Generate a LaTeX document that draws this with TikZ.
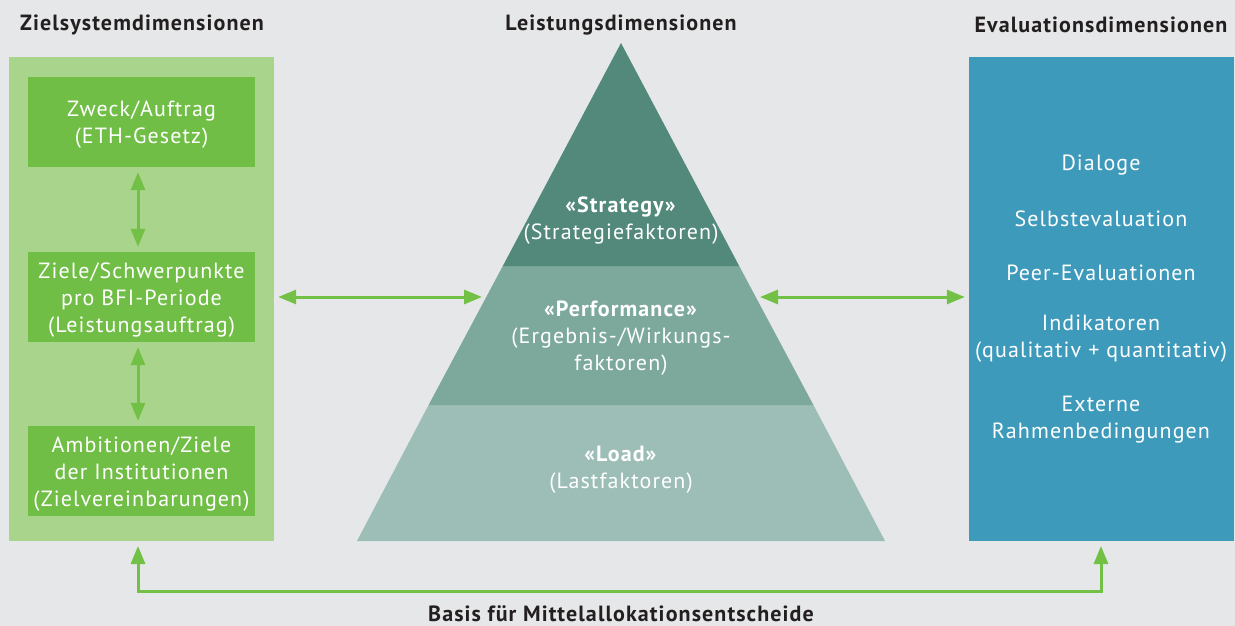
\documentclass[tikz,border=0pt]{standalone}
\usepackage{fontspec}
\setmainfont[LetterSpace=5]{PT Sans}
\usetikzlibrary{arrows.meta}
\definecolor{bggray}{HTML}{E6E7E8}
\definecolor{lightgreen}{HTML}{A9D48B}
\definecolor{midgreen}{HTML}{70BE45}
\definecolor{arrowgreen}{HTML}{72C045}
\definecolor{pyrtop}{HTML}{52897B}
\definecolor{pyrmid}{HTML}{7DA99C}
\definecolor{pyrlow}{HTML}{9DBEB7}
\definecolor{evalblue}{HTML}{3E9ABB}
\definecolor{darktext}{HTML}{231F20}
\tikzset{
  heading/.style={font=\fontsize{22}{26}\selectfont\bfseries, text=darktext, anchor=center},
  panel/.style={rectangle, inner sep=0pt, minimum width=265pt, minimum height=484pt},
  goalbox/.style={rectangle, fill=midgreen, inner sep=0pt, minimum width=227pt, minimum height=90pt},
  bodytext/.style={text=white, align=center, font=\fontsize{22}{27}\selectfont},
  link/.style={draw=arrowgreen, line width=3pt, {Triangle[length=18pt,width=14pt]}-{Triangle[length=18pt,width=14pt]}},
  uplink/.style={draw=arrowgreen, line width=3pt, -{Triangle[length=18pt,width=14pt]}},
}
\begin{document}
\begin{tikzpicture}[x=1pt, y=-1pt]
  % canvas
  \fill[bggray] (0,0) rectangle (1235,626);
  \useasboundingbox (0,0) rectangle (1235,626);

  % column headings
  \node[heading] (h1) at (142,25) {Zielsystemdimensionen};
  \node[heading] (h2) at (621,25) {Leistungsdimensionen};
  \node[heading] (h3) at (1101,25) {Evaluationsdimensionen};

  % goal system column
  \node[panel, fill=lightgreen] (goals) at (141.5,299) {};
  \node[goalbox] (g1) at (141.5,122) {};
  \node[goalbox] (g2) at (141.5,297) {};
  \node[goalbox] (g3) at (141.5,471) {};
  \node[bodytext] (g1t) at (141.5,125) {Zweck/Auftrag\\(ETH-Gesetz)};
  \node[bodytext] (g2t) at (141.5,300) {Ziele/Schwerpunkte\\pro BFI-Periode\\(Leistungsauftrag)};
  \node[bodytext] (g3t) at (141.5,474) {Ambitionen/Ziele\\der Institutionen\\(Zielvereinbarungen)};

  % performance pyramid in three bands
  \fill[pyrlow] (357,541) -- (885,541) -- (813.4,405) -- (428.6,405) -- cycle;
  \fill[pyrmid] (428.6,405) -- (813.4,405) -- (739.2,266) -- (502.8,266) -- cycle;
  \fill[pyrtop] (502.8,266) -- (739.2,266) -- (621,43) -- cycle;
  \coordinate (pyrL) at (486,297);
  \coordinate (pyrR) at (756,297);
  \node[bodytext] (strat) at (621,221) {\textbf{«Strategy»}\\(Strategiefaktoren)};
  \node[bodytext] (perf) at (621,338) {\textbf{«Performance»}\\(Ergebnis-/Wirkungs-\\faktoren)};
  \node[bodytext] (load) at (621,470) {\textbf{«Load»}\\(Lastfaktoren)};

  % evaluation column
  \node[panel, fill=evalblue] (evals) at (1101.5,299) {};
  \node[bodytext] (e1) at (1101,165) {Dialoge};
  \node[bodytext] (e2) at (1101,219) {Selbstevaluation};
  \node[bodytext] (e3) at (1101,273) {Peer-Evaluationen};
  \node[bodytext] (e4) at (1101,339) {Indikatoren\\(qualitativ + quantitativ)};
  \node[bodytext] (e5) at (1101,420) {Externe\\Rahmenbedingungen};

  % connectors between the goal boxes
  \draw[link, shorten <=5pt, shorten >=5pt] ([xshift=-3.5pt]g1.south) -- ([xshift=-3.5pt]g2.north);
  \draw[link, shorten <=5pt, shorten >=5pt] ([xshift=-3.5pt]g2.south) -- ([xshift=-3.5pt]g3.north);
  % links to and from the pyramid
  \draw[link, shorten <=4pt, shorten >=4pt] (goals.east |- pyrL) -- (pyrL);
  \draw[link, shorten <=4pt, shorten >=4pt] (pyrR) -- (evals.west |- pyrR);

  % allocation feedback loop
  \coordinate (baseL) at (138,541);
  \coordinate (baseR) at (1101,541);
  \coordinate (loopL) at (138,591);
  \coordinate (loopR) at (1101,591);
  \draw[uplink, shorten >=5pt] (loopR) -- (loopL) -- (baseL);
  \draw[uplink, shorten >=5pt] (loopL) -- (loopR) -- (baseR);
  \node[heading] (basis) at (621,614) {Basis für Mittelallokationsentscheide};
\end{tikzpicture}
\end{document}
